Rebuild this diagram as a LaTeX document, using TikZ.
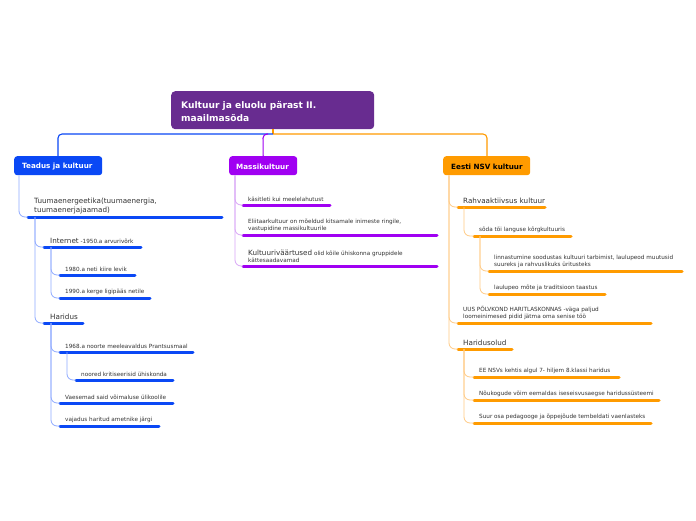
\documentclass[tikz,border=0pt]{standalone}
\usepackage{fontspec}
\setmainfont{DejaVu Sans}
\usetikzlibrary{calc}
\definecolor{rootc}{HTML}{682C90}
\definecolor{bluec}{HTML}{0A48F5}
\definecolor{bluel}{HTML}{8FAAFF}
\definecolor{purc}{HTML}{A000F2}
\definecolor{purl}{HTML}{D9A6F7}
\definecolor{orac}{HTML}{FF9B00}
\definecolor{oral}{HTML}{FFCB85}
\definecolor{txt}{HTML}{333333}
\tikzset{
  rootbox/.style={fill=rootc,rounded corners=4pt,minimum width=203pt,minimum height=38pt,anchor=north west,inner sep=0},
  branchbox/.style={rounded corners=3pt,minimum height=19pt,anchor=north west,inner sep=0},
  branchtext/.style={anchor=west,inner sep=0,font=\bfseries\fontsize{7.2}{8}\selectfont},
  small/.style={anchor=south west,inner sep=0,align=left,text=txt,font=\fontsize{5.7}{7.6}\selectfont},
  big/.style={anchor=south west,inner sep=0,align=left,text=txt,font=\fontsize{7.2}{9}\selectfont},
  uline/.style={line width=3pt,line cap=round},
  conn/.style={line width=0.8pt,rounded corners=6pt},
  topconn/.style={line width=1.1pt,rounded corners=4pt}
}
\begin{document}
\begin{tikzpicture}[x=1pt,y=-1pt]
\useasboundingbox[fill=white] (0,0) rectangle (696,520);
% root
\node[rootbox] (root) at (171,91) {};
\node[anchor=north west,inner sep=0,align=left,text=white,font=\bfseries\fontsize{9.1}{12.5}\selectfont] (roott) at (181,101.5) {Kultuur ja eluolu pärast II.\\maailmasõda};
% branch boxes
\node[branchbox,fill=bluec,minimum width=88pt] (teadus) at (14,156) {};
\node[branchtext,text=white] (teadust) at (22,167) {Teadus ja kultuur};
\node[branchbox,fill=purc,minimum width=68pt] (massi) at (229,156) {};
\node[branchtext,text=white] (massit) at (236,167) {Massikultuur};
\node[branchbox,fill=orac,minimum width=87pt] (eesti) at (443,156) {};
\node[branchtext,text=black] (eestit) at (451,167) {Eesti NSV kultuur};
% top connectors
\coordinate (rootb) at (273,129);
\coordinate (hub) at (273,134);
\draw[orac,line width=1.1pt] (rootb) -- (hub);
\draw[bluec,topconn] (hub) -- (58,134) -- (teadus.north -| 58,0);
\draw[purc,topconn] (268,134) -- (263,134) -- (massi.north);
\draw[orac,topconn] (hub) -- (487,134) -- (eesti.north -| 487,0);

% ===== blue subtree =====
\coordinate (tuU) at (28,217);
\draw[bluec,uline] (tuU) -- (222,217);
\node[big] (tu) at (34,214) {Tuumaenergeetika(tuumaenergia,\\tuumaenerjajaamad)};
\coordinate (inU) at (44,247);
\draw[bluec,uline] (inU) -- (141,247);
\node[anchor=south west,inner sep=0,text=txt] (in) at (50,244) {\fontsize{7.2}{9}\selectfont Internet\fontsize{5.7}{7.6}\selectfont{} -1950.a arvurivõrk};
\coordinate (i1U) at (60,275);
\draw[bluec,uline] (i1U) -- (135,275);
\node[small] (i1) at (65,272) {1980.a neti kiire levik};
\coordinate (i2U) at (60,298);
\draw[bluec,uline] (i2U) -- (150,298);
\node[small] (i2) at (65,295) {1990.a kerge ligipääs netile};
\coordinate (haU) at (44,323);
\draw[bluec,uline] (haU) -- (83,323);
\node[big] (ha) at (50,320) {Haridus};
\coordinate (h1U) at (60,352);
\draw[bluec,uline] (h1U) -- (193,352);
\node[small] (h1) at (65,349) {1968.a noorte meeleavaldus Prantsusmaal};
\coordinate (h11U) at (76,380);
\draw[bluec,uline] (h11U) -- (173,380);
\node[small] (h11) at (81,377) {noored kritiseerisid ühiskonda};
\coordinate (h2U) at (60,403);
\draw[bluec,uline] (h2U) -- (173,403);
\node[small] (h2) at (65,400) {Vaesemad said võimaluse ülikoolile};
\coordinate (h3U) at (60,426);
\draw[bluec,uline] (h3U) -- (159,426);
\node[small] (h3) at (65,423) {vajadus haritud ametnike järgi};
% blue connectors
\draw[bluel,conn] ($(teadus.south west)+(5,0)$) |- (tuU);
\draw[bluel,conn] ($(tuU)+(7,0)$) |- (inU);
\draw[bluel,conn] ($(tuU)+(7,0)$) |- (haU);
\draw[bluel,conn] ($(inU)+(7,0)$) |- (i1U);
\draw[bluel,conn] ($(inU)+(7,0)$) |- (i2U);
\draw[bluel,conn] ($(haU)+(7,0)$) |- (h1U);
\draw[bluel,conn] ($(haU)+(7,0)$) |- (h2U);
\draw[bluel,conn] ($(haU)+(7,0)$) |- (h3U);
\draw[bluel,conn] ($(h1U)+(7,0)$) |- (h11U);

% ===== purple subtree =====
\coordinate (m1U) at (243,205);
\draw[purc,uline] (m1U) -- (330,205);
\node[small] (m1) at (248,202) {käsitleti kui meelelahutust};
\coordinate (m2U) at (243,235);
\draw[purc,uline] (m2U) -- (437,235);
\node[small] (m2) at (248,232) {Eliitaarkultuur on mõeldud kitsamale inimeste ringile,\\vastupidine massikultuurile};
\coordinate (m3U) at (243,266);
\draw[purc,uline] (m3U) -- (437,266);
\node[small] (m3) at (248,263) {{\fontsize{7.2}{7.6}\selectfont Kultuuriväärtused} olid kõile ühiskonna gruppidele\\kättesaadavamad};
\draw[purl,conn] ($(massi.south west)+(6,0)$) |- (m1U);
\draw[purl,conn] ($(massi.south west)+(6,0)$) |- (m2U);
\draw[purl,conn] ($(massi.south west)+(6,0)$) |- (m3U);

% ===== orange subtree =====
\coordinate (raU) at (458,207);
\draw[orac,uline] (raU) -- (545,207);
\node[big] (ra) at (463,204) {Rahvaaktiivsus kultuur};
\coordinate (r1U) at (474,236);
\draw[orac,uline] (r1U) -- (571,236);
\node[small] (r1) at (479,233) {sõda tõi languse kõrgkultuuris};
\coordinate (r11U) at (489,271);
\draw[orac,uline] (r11U) -- (682,271);
\node[small] (r11) at (494,268) {linnastumine soodustas kultuuri tarbimist, laulupeod muutusid\\suureks ja rahvuslikuks üritusteks};
\coordinate (r12U) at (489,294);
\draw[orac,uline] (r12U) -- (605,294);
\node[small] (r12) at (494,291) {laulupeo mõte ja traditsioon taastus};
\coordinate (uuU) at (458,323);
\draw[orac,uline] (uuU) -- (651,323);
\node[small] (uu) at (463,320) {UUS PÕLVKOND HARITLASKONNAS -väga paljud\\loomeinimesed pidid jätma oma senise töö};
\coordinate (hoU) at (458,349);
\draw[orac,uline] (hoU) -- (512,349);
\node[big] (ho) at (463,346) {Haridusolud};
\coordinate (o1U) at (474,377);
\draw[orac,uline] (o1U) -- (619,377);
\node[small] (o1) at (479,374) {EE NSVs kehtis algul 7- hiljem 8.klassi haridus};
\coordinate (o2U) at (474,400);
\draw[orac,uline] (o2U) -- (659,400);
\node[small] (o2) at (479,397) {Nõukogude võim eemaldas iseseisvusaegse haridussüsteemi};
\coordinate (o3U) at (474,423);
\draw[orac,uline] (o3U) -- (651,423);
\node[small] (o3) at (479,420) {Suur osa pedagooge ja õppejõude tembeldati vaenlasteks};
\draw[oral,conn] ($(eesti.south west)+(6,0)$) |- (raU);
\draw[oral,conn] ($(eesti.south west)+(6,0)$) |- (uuU);
\draw[oral,conn] ($(eesti.south west)+(6,0)$) |- (hoU);
\draw[oral,conn] ($(raU)+(6,0)$) |- (r1U);
\draw[oral,conn] ($(r1U)+(6,0)$) |- (r11U);
\draw[oral,conn] ($(r1U)+(6,0)$) |- (r12U);
\draw[oral,conn] ($(hoU)+(6,0)$) |- (o1U);
\draw[oral,conn] ($(hoU)+(6,0)$) |- (o2U);
\draw[oral,conn] ($(hoU)+(6,0)$) |- (o3U);
\end{tikzpicture}
\end{document}
